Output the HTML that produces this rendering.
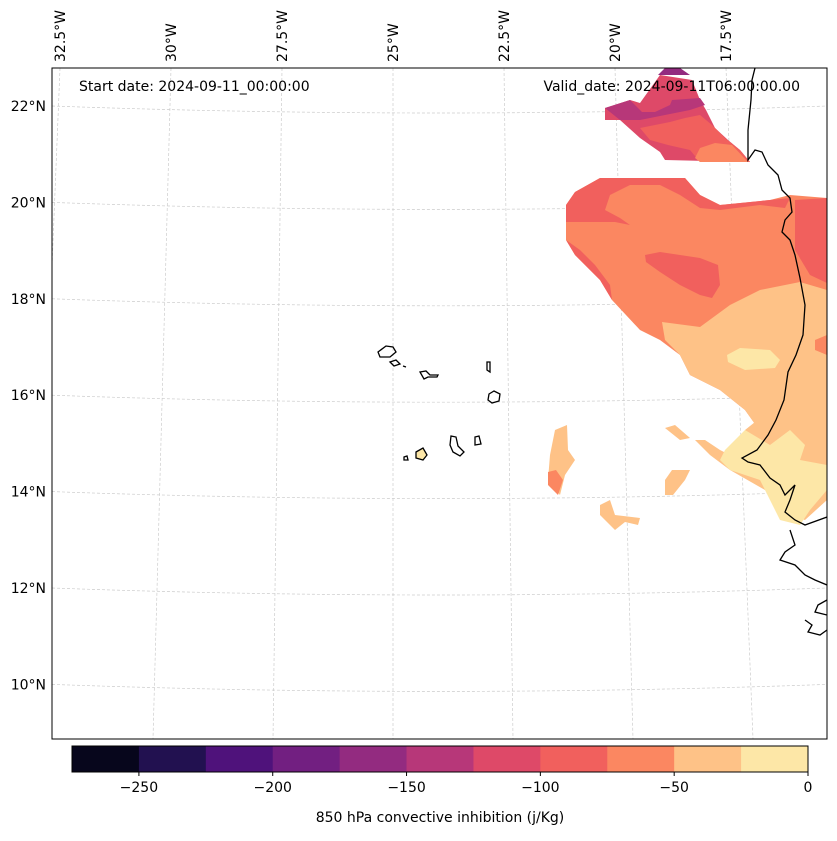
<!DOCTYPE html>
<html><head><meta charset="utf-8">
<style>
body{margin:0;background:#fff;font-family:"Liberation Sans","DejaVu Sans",sans-serif;}
svg text{font-family:"DejaVu Sans","Liberation Sans",sans-serif;}
</style></head>
<body>
<svg id="chart" width="837" height="836" viewBox="0 0 837 836" xmlns="http://www.w3.org/2000/svg">
<defs><clipPath id="mapclip"><rect x="52" y="68" width="775" height="671"/></clipPath></defs>
<g id="grid" clip-path="url(#mapclip)"></g>
<g clip-path="url(#mapclip)">
  <path fill="#de4968" d="M605,112 L605,120 L620,120 L640,138 L660,152 L665,160 L750,162 L740,150 L728,140 L715,128 L706,110 L700,100 L692,80 L660,75 L640,103 L630,100 L605,108Z"/>
  <path fill="#b73779" d="M605,108 L630,100 L642,112 L655,112 L670,105 L672,100 L700,98 L705,105 L690,110 L680,112 L640,120 L620,120Z"/>
  <path fill="#932b80" d="M658,75 L665,68 L680,68 L690,75Z"/>
  <path fill="#f1605d" d="M640,128 L670,122 L685,118 L700,115 L712,125 L725,138 L740,150 L750,162 L700,162 L690,150 L668,145 L650,140Z"/>
  <path fill="#fb8761" d="M695,158 L700,148 L715,143 L732,145 L748,162 L700,162Z"/>
  <path fill="#fb8761" d="M566,205 L575,192 L600,178 L685,178 L700,195 L720,205 L770,200 L790,195 L827,198 L827,470 L805,440 L790,430 L770,445 L745,410 L720,390 L690,375 L680,355 L660,340 L640,330 L612,300 L600,280 L590,270 L575,255 L566,240Z"/>
  <path fill="#f1605d" d="M566,205 L575,192 L600,178 L685,178 L700,195 L720,205 L770,200 L790,198 L785,208 L760,205 L720,210 L700,208 L680,195 L660,185 L630,185 L610,195 L605,210 L620,218 L630,225 L615,222 L566,222Z"/>
  <path fill="#f1605d" d="M645,255 L660,252 L700,258 L718,265 L720,285 L712,298 L700,295 L680,285 L660,272 L646,262Z"/>
  <path fill="#f1605d" d="M795,200 L827,198 L827,283 L810,275 L795,250Z"/>
  <path fill="#f1605d" d="M566,240 L575,255 L590,270 L600,280 L612,300 L610,285 L595,265 L580,250Z"/>
  <path fill="#fec287" d="M662,322 L700,327 L730,305 L760,290 L800,282 L827,290 L827,470 L805,440 L790,430 L770,445 L745,410 L720,390 L690,375 L680,355 L665,340Z"/>
  <path fill="#fde7a7" d="M727,355 L740,348 L770,350 L780,360 L775,368 L745,370 L728,362Z"/>
  <path fill="#fb8761" d="M815,340 L827,335 L827,355 L815,350Z"/>
  <path fill="#fec287" d="M770,410 L790,400 L800,420 L827,440 L827,500 L805,520 L790,515 L770,480 L740,460 L720,450 L705,440 L695,440 L710,455 L730,470 L765,490 L790,500 L790,480 L760,455 L745,430Z"/>
  <path fill="#fde7a7" d="M725,450 L745,430 L770,445 L790,430 L805,445 L800,460 L827,465 L827,490 L810,510 L800,525 L780,520 L760,480 L730,470 L720,460Z"/>
  <path fill="#fec287" d="M555,430 L567,425 L568,450 L575,460 L565,475 L560,495 L548,480 L550,455Z"/>
  <path fill="#fb8761" d="M548,472 L556,470 L563,480 L558,495 L548,485Z"/>
  <path fill="#fec287" d="M665,428 L675,425 L690,438 L680,440 Z"/>
  <path fill="#fec287" d="M665,480 L672,470 L690,470 L685,480 L673,495 L665,495Z"/>
  <path fill="#fec287" d="M600,505 L610,500 L615,515 L640,518 L638,525 L625,522 L615,530 L600,515Z"/>
  <path fill="#fde7a7" d="M417,452 L423,448 L427,455 L423,460 L416,458Z"/>
</g>
<g clip-path="url(#mapclip)" fill="none" stroke="#000" stroke-width="1.3">
  <path d="M755,68 L752,80 L751,100 L748,130 L748,160 L755,150 L762,152 L768,165 L778,175 L782,190 L790,198 L792,212 L785,220 L782,232 L790,240 L795,255 L800,278 L805,305 L803,335 L796,355 L788,372 L784,400 L776,420 L768,435 L757,450 L742,458 L748,462 L760,465 L770,478 L780,485 L785,495 L790,490 L795,485 L790,500 L785,512 L795,520 L805,525 L827,517"/>
  <path d="M790,530 L795,545 L785,552 L780,560 L795,565 L805,575 L815,580 L827,585 M827,600 L818,605 L815,612 L827,615 M805,620 L812,625 L808,632 L820,635 L827,630"/>
  <path d="M378,352 L386,346 L393,347 L396,352 L390,357 L380,357Z"/>
  <path d="M390,362 L396,360 L400,364 L394,366Z"/>
  <path d="M403,366 L406,367"/>
  <path d="M420,372 L426,371 L430,375 L438,375 L437,377 L428,377 L424,379Z"/>
  <path d="M487,362 L490,362 L490,372 L487,370Z"/>
  <path d="M489,394 L494,391 L500,394 L499,401 L492,403 L488,400Z"/>
  <path d="M451,436 L456,437 L458,446 L464,452 L460,456 L453,452 L450,445Z"/>
  <path d="M475,437 L479,436 L481,444 L475,445Z"/>
  <path d="M416,452 L423,448 L427,455 L423,460 L416,458Z"/>
  <path d="M404,457 L407,456 L408,460 L404,460Z"/>
</g>
<rect x="52" y="68" width="775" height="671" fill="none" stroke="#000" stroke-width="1"/>
<g id="latlabels"></g>
<g id="lonlabels"></g>
<text x="79" y="91" font-size="14">Start date: 2024-09-11_00:00:00</text>
<text x="800" y="91" font-size="14" text-anchor="end">Valid_date: 2024-09-11T06:00:00.00</text>
<g id="colorbar"></g>
<text x="440" y="822" font-size="14" text-anchor="middle">850 hPa convective inhibition (j/Kg)</text>
</svg>
<script>
const levels = [-275,-250,-225,-200,-175,-150,-125,-100,-75,-50,-25,0];
const levelColors = ["#07061c","#221150","#4f127b","#721f81","#932b80","#b73779","#de4968","#f1605d","#fb8761","#fec287","#fde7a7"];
const tickValues = [-250,-200,-150,-100,-50,0];
const tickLabels = ["\u2212250","\u2212200","\u2212150","\u2212100","\u221250","0"];
const latValues = [22,20,18,16,14,12,10];
const latLabels = ["22°N","20°N","18°N","16°N","14°N","12°N","10°N"];
const lonValues = [-32.5,-30,-27.5,-25,-22.5,-20,-17.5];
const lonLabels = ["32.5°W","30°W","27.5°W","25°W","22.5°W","20°W","17.5°W"];

const NS="http://www.w3.org/2000/svg";
function mk(tag,attrs,parent){const e=document.createElementNS(NS,tag);for(const k in attrs)e.setAttribute(k,attrs[k]);parent.appendChild(e);return e;}
const cbX0=72, cbX1=808, cbY=746, cbH=26;
function cbx(v){return cbX0+(v-levels[0])/(levels[levels.length-1]-levels[0])*(cbX1-cbX0);}
const cb=document.getElementById('colorbar');
for(let i=0;i<levelColors.length;i++){
  const r=mk('rect',{x:cbx(levels[i]),y:cbY,width:cbx(levels[i+1])-cbx(levels[i])+0.5,height:cbH,fill:levelColors[i]},cb);
  
  
}
mk('rect',{x:cbX0,y:cbY,width:cbX1-cbX0,height:cbH,fill:'none',stroke:'#000','stroke-width':1},cb);
tickValues.forEach((v,i)=>{
  const x=cbx(v);
  mk('line',{x1:x,x2:x,y1:cbY+cbH,y2:cbY+cbH+4,stroke:'#000'},cb);
  const t=mk('text',{x:x,y:cbY+cbH+20,'font-size':14,'text-anchor':'middle'},cb);
  t.textContent=tickLabels[i];
  
  
});
function latY(lat){return 106+(22-lat)*48.2;}
function lonX(lon,y){return 393+(lon+25)/2.5*(111+9*(y-68)/671);}
const grid=document.getElementById('grid');
latValues.forEach(lat=>{
  const y=latY(lat);
  const p=mk('path',{d:`M52,${y} Q440,${y+14} 827,${y}`,fill:'none',stroke:'#ccc','stroke-width':0.7,'stroke-dasharray':'3,2'},grid);
  
  
});
lonValues.forEach(lon=>{
  const p=mk('line',{x1:lonX(lon,68),y1:68,x2:lonX(lon,739),y2:739,stroke:'#ccc','stroke-width':0.7,'stroke-dasharray':'3,2'},grid);
  
  
});
const ll=document.getElementById('latlabels');
latValues.forEach((lat,i)=>{
  const t=mk('text',{x:46,y:latY(lat)+5,'font-size':14,'text-anchor':'end'},ll);
  t.textContent=latLabels[i];
  
  
});
const lo=document.getElementById('lonlabels');
lonValues.forEach((lon,i)=>{
  const x=lonX(lon,68)+5;
  const t=mk('text',{x:0,y:0,'font-size':14,transform:`translate(${x},62) rotate(-90)`},lo);
  t.textContent=lonLabels[i];
  
  
});
</script>
</body></html>
